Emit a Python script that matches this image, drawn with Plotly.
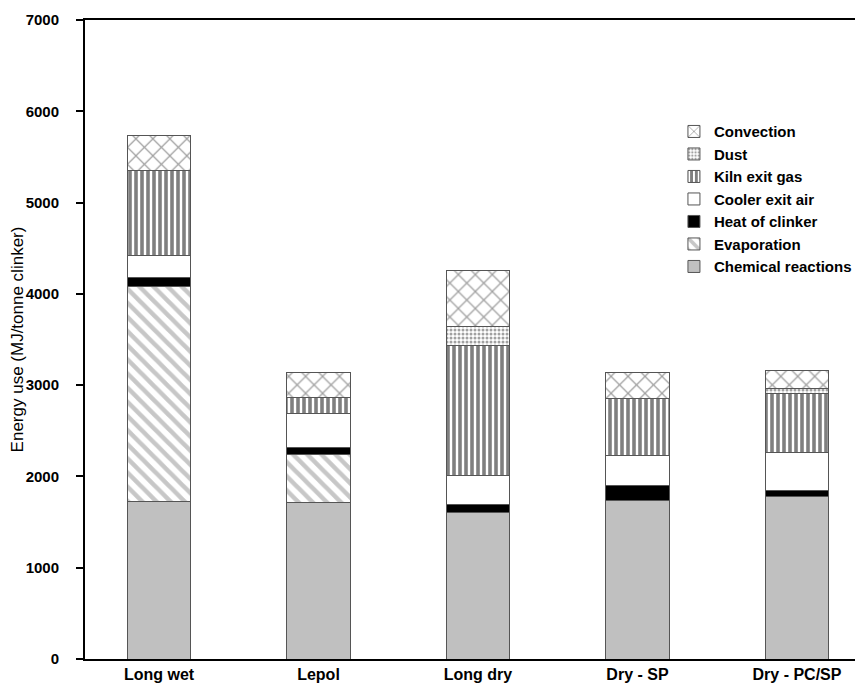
import plotly.graph_objects as go

categories = ["Long wet", "Lepol", "Long dry", "Dry - SP", "Dry - PC/SP"]

chemical_reactions = [1730, 1710, 1600, 1735, 1778]
evaporation = [2355, 535, 0, 0, 0]
heat_of_clinker = [90, 70, 90, 170, 73]
cooler_exit_air = [240, 375, 325, 320, 409]
kiln_exit_gas = [940, 180, 1415, 630, 650]
dust = [0, 0, 210, 0, 55]
convection = [385, 265, 615, 280, 193]

y_ticks = [0, 1000, 2000, 3000, 4000, 5000, 6000, 7000]

series = [
    ("Chemical reactions", chemical_reactions, dict(color="#c0c0c0")),
    ("Evaporation", evaporation, dict(color="white", pattern=dict(shape="\\", fgcolor="#8f8f8f", bgcolor="white", size=10, solidity=0.45))),
    ("Heat of clinker", heat_of_clinker, dict(color="black")),
    ("Cooler exit air", cooler_exit_air, dict(color="white")),
    ("Kiln exit gas", kiln_exit_gas, dict(color="white", pattern=dict(shape="|", fgcolor="black", bgcolor="white", size=6, solidity=0.6))),
    ("Dust", dust, dict(color="white", pattern=dict(shape=".", fgcolor="#444444", bgcolor="white", size=4, solidity=0.45))),
    ("Convection", convection, dict(color="white", pattern=dict(shape="x", fgcolor="#444444", bgcolor="white", size=12, solidity=0.2))),
]

fig = go.Figure()
for name, vals, mk in series:
    mk = dict(mk)
    mk["line"] = dict(color="#555555", width=1)
    fig.add_trace(go.Bar(x=categories, y=vals, name=name, marker=mk, width=0.40))

fig.update_layout(
    width=855, height=680,
    barmode="stack",
    plot_bgcolor="white", paper_bgcolor="white",
    margin=dict(l=77, r=0, t=12, b=29, autoexpand=False),
    font=dict(family="Liberation Sans, Arial, sans-serif", color="black"),
    legend=dict(
        traceorder="reversed",
        x=0.757, y=0.851, xanchor="left", yanchor="top",
        font=dict(size=15, weight="bold", color="black"),
        itemwidth=30, tracegroupgap=0,
        bgcolor="rgba(0,0,0,0)",
    ),
    bargap=0.6,
)
fig.update_xaxes(
    range=[-0.464, 4.414], automargin=False,
    showline=True, linecolor="black", linewidth=2, mirror=True,
    ticks="", tickfont=dict(size=16, weight="bold", color="black"),
    showgrid=False,
)
fig.update_yaxes(
    range=[0, 7000], tickvals=y_ticks, automargin=False,
    showline=True, linecolor="black", linewidth=2, mirror=False,
    ticks="outside", ticklen=7, tickwidth=1.5, tickcolor="black",
    ticklabelstandoff=14,
    tickfont=dict(size=15, weight="bold", color="black"),
    showgrid=False, zeroline=False,
    title=dict(text="Energy use (MJ/tonne clinker)", font=dict(size=17, color="black"), standoff=3),
)

fig.write_html("out.html")
